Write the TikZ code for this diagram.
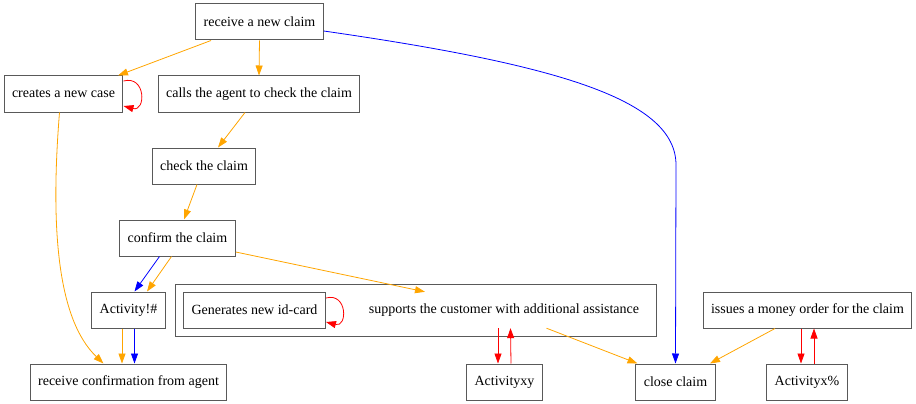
\documentclass[tikz,border=0pt]{standalone}
\usepackage{fontspec}
\setmainfont{Liberation Serif}
\usetikzlibrary{arrows.meta}
\definecolor{edgeorange}{RGB}{255,165,0}
\begin{document}
\begin{tikzpicture}[x=1pt, y=-1pt, font=\fontsize{14}{16}\selectfont,
        box/.style = {draw = black!65, line width = 1pt, minimum height = 36pt, inner xsep = 8pt},
        >={Triangle[length=10pt, width=7pt]}]
        \useasboundingbox (0,0) rectangle (916,404);
        % cluster round the id-card step
        \node[box, minimum width = 481pt, minimum height = 52pt] (grp) at (415.5,310) {};
        \node[box] (recv) at (259.5,22) {receive a new claim};
        \node[box] (creates) at (63.5,94) {creates a new case};
        \node[box] (calls) at (259,94) {calls the agent to check the claim};
        \node[box] (check) at (204,166) {check the claim};
        \node[box] (confirm) at (177.5,238) {confirm the claim};
        \node[box] (act) at (128.5,310) {Activity!\#};
        \node[box] (rconf) at (128.5,382) {receive confirmation from agent};
        \node[box] (gen) at (254.5,310) {Generates new id-card};
        \node[minimum height = 36pt] (supp) at (504,310) {supports the customer with additional assistance};
        \node[box] (actxy) at (504.5,382) {Activityxy};
        \node[box] (close) at (675.5,382) {close claim};
        \node[box] (issues) at (807.5,310) {issues a money order for the claim};
        \node[box] (actx) at (807,382) {Activityx\%};
        \begin{scope}[style = {edgeorange, line width = 0.8pt}]
            \draw[->] ([xshift=-48.5pt]recv.south) -- ([xshift=54.5pt]creates.north);
            \draw[->] (recv.south) -- (calls.north);
            \draw[->] ([xshift=-4pt]creates.south) .. controls (50,230) and (58,320) .. ([xshift=-25pt]rconf.north);
            \draw[->] ([xshift=-14pt]calls.south) -- ([xshift=14pt]check.north);
            \draw[->] ([xshift=-7pt]check.south) -- ([xshift=6.5pt]confirm.north);
            \draw[->] ([xshift=-6pt]confirm.south) -- ([xshift=18.5pt]act.north);
            \draw[->] ([yshift=-14pt]confirm.east) -- ([xshift=-79pt]supp.north);
            \draw[->] ([xshift=-6.5pt]act.south) -- ([xshift=-6.5pt]rconf.north);
            \draw[->] ([xshift=42.5pt]supp.south) -- ([xshift=-38pt]close.north);
            \draw[->] ([xshift=-32.5pt]issues.south) -- ([xshift=34.5pt]close.north);
        \end{scope}
        \begin{scope}[style = {blue, line width = 0.8pt}]
            \draw[->] ([yshift=-9pt]recv.east) .. controls (560,65) and (676,100) .. (676,165) -- (close.north);
            \draw[->] ([xshift=-18pt]confirm.south) -- ([xshift=6pt]act.north);
            \draw[->] ([xshift=6pt]act.south) -- ([xshift=6pt]rconf.north);
        \end{scope}
        \begin{scope}[style = {red, line width = 0.8pt}]
            \draw[->] ([yshift=13pt]creates.east) to[out=15, in=-15, looseness=2.4] ([yshift=-12pt]creates.east);
            \draw[->] ([yshift=12pt]gen.east) to[out=15, in=-15, looseness=2.4] ([yshift=-12pt]gen.east);
            \draw[->] ([xshift=-6pt]supp.south) -- ([xshift=-6.5pt]actxy.north);
            \draw[->] ([xshift=6.5pt]actxy.north) -- ([xshift=6.5pt]supp.south);
            \draw[->] ([xshift=-6.5pt]issues.south) -- ([xshift=-6pt]actx.north);
            \draw[->] ([xshift=7pt]actx.north) -- ([xshift=6.5pt]issues.south);
        \end{scope}
\end{tikzpicture}
\end{document}
